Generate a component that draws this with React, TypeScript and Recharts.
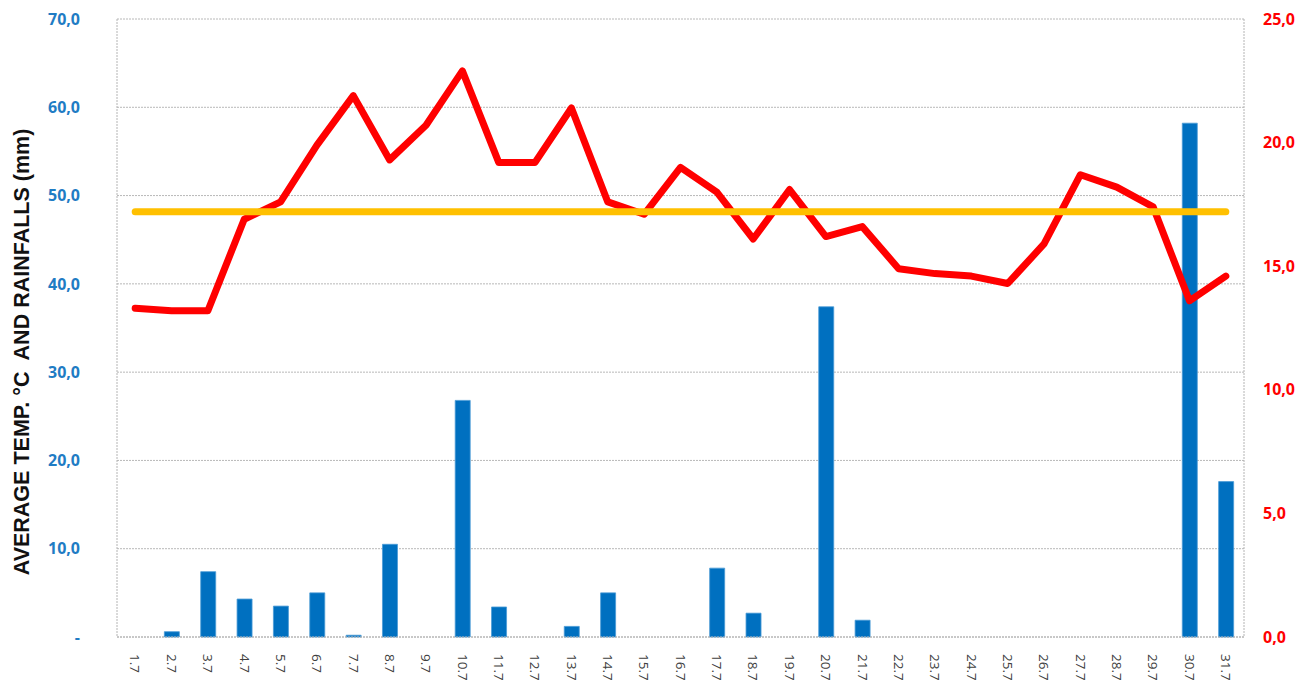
import { ComposedChart, Bar, Line, XAxis, YAxis, CartesianGrid } from "recharts";

// day of July
const days = [
  "1.7", "2.7", "3.7", "4.7", "5.7", "6.7", "7.7", "8.7", "9.7", "10.7",
  "11.7", "12.7", "13.7", "14.7", "15.7", "16.7", "17.7", "18.7", "19.7", "20.7",
  "21.7", "22.7", "23.7", "24.7", "25.7", "26.7", "27.7", "28.7", "29.7", "30.7",
  "31.7",
];

// rainfall, mm (left axis)
const rainfall = [
  0, 0.6, 7.4, 4.3, 3.5, 5.0, 0.2, 10.5, 0, 26.8,
  3.4, 0, 1.2, 5.0, 0, 0, 7.8, 2.7, 0, 37.4,
  1.9, 0, 0, 0, 0, 0, 0, 0, 0, 58.2,
  17.6,
];

// daily temperature, °C (right axis)
const temperature = [
  13.3, 13.2, 13.2, 16.9, 17.6, 19.9, 21.9, 19.3, 20.7, 22.9,
  19.2, 19.2, 21.4, 17.6, 17.1, 19.0, 18.0, 16.1, 18.1, 16.2,
  16.6, 14.9, 14.7, 14.6, 14.3, 15.9, 18.7, 18.2, 17.4, 13.6,
  14.6,
];

// monthly average temperature
const averageTemp = 17.2;

const leftTicks = [0, 10, 20, 30, 40, 50, 60, 70];
const rightTicks = [0, 5, 10, 15, 20, 25];

const data = days.map((day, i) => ({
  day,
  rain: rainfall[i],
  temp: temperature[i],
  avg: averageTemp,
}));

const fmt = (v: number) => v.toFixed(1).replace(".", ",");

const DayTick = ({ x, y, payload }: any) => (
  <g transform={`translate(${x},${y})`}>
    <text
      transform="rotate(90)"
      x={15}
      y={0}
      dy="0.35em"
      textAnchor="start"
      fill="#404040"
      fontSize={13.5}
      fontFamily="Open Sans"
    >
      {payload.value}
    </text>
  </g>
);

const AxisTitle = ({ viewBox }: any) => (
  <text
    transform={`translate(${viewBox.x + 22},${viewBox.y + viewBox.height / 2 + 24}) rotate(-90)`}
    textAnchor="middle"
    dominantBaseline="central"
    fill="#111"
    fontSize={21.5}
    fontWeight={700}
    fontFamily="Liberation Sans"
  >
    {"AVERAGE TEMP. °C\u00a0 AND RAINFALLS (mm)"}
  </text>
);

const axisStroke = "#b4b4b4";

export default function App() {
  return (
    <div style={{ position: "absolute", left: 0, top: 0 }}>
      <ComposedChart
        width={1302}
        height={682}
        data={data}
        margin={{ top: 19, right: 0, bottom: 0, left: 0 }}
      >
        <CartesianGrid
          yAxisId="left"
          vertical={false}
          stroke="#b8b8b8"
          strokeDasharray="2 1"
        />
        <XAxis
          dataKey="day"
          interval={0}
          height={45}
          tickLine={false}
          tickSize={0}
          axisLine={{ stroke: axisStroke, strokeDasharray: "2 1" }}
          tick={<DayTick />}
        />
        <YAxis
          yAxisId="left"
          width={117}
          domain={[0, 70]}
          ticks={leftTicks}
          tickFormatter={(v: number) => (v === 0 ? "-" : fmt(v))}
          tickLine={false}
          tickSize={0}
          tickMargin={37}
          axisLine={{ stroke: axisStroke, strokeDasharray: "2 1" }}
          tick={{ fill: "#1f7cc4", fontSize: 16, fontWeight: 700, fontFamily: "Open Sans" }}
          label={<AxisTitle />}
        />
        <YAxis
          yAxisId="right"
          orientation="right"
          width={58}
          domain={[0, 25]}
          ticks={rightTicks}
          tickFormatter={fmt}
          tickLine={false}
          tickSize={0}
          tickMargin={19}
          axisLine={{ stroke: axisStroke, strokeDasharray: "2 1" }}
          tick={{ fill: "#ff0000", fontSize: 16, fontWeight: 700, fontFamily: "Open Sans", textAnchor: "start" }}
        />
        <Bar
          yAxisId="left"
          dataKey="rain"
          barSize={15}
          fill="#0070c0"
          stroke="#4a9ad6"
          strokeWidth={0.8}
          isAnimationActive={false}
        />
        <Line
          yAxisId="right"
          dataKey="temp"
          type="linear"
          stroke="#ff0000"
          strokeWidth={7}
          strokeLinecap="round"
          strokeLinejoin="round"
          dot={false}
          activeDot={false}
          isAnimationActive={false}
        />
        <Line
          yAxisId="right"
          dataKey="avg"
          type="linear"
          stroke="#ffc000"
          strokeWidth={7}
          strokeLinecap="round"
          dot={false}
          activeDot={false}
          isAnimationActive={false}
        />
      </ComposedChart>
    </div>
  );
}
